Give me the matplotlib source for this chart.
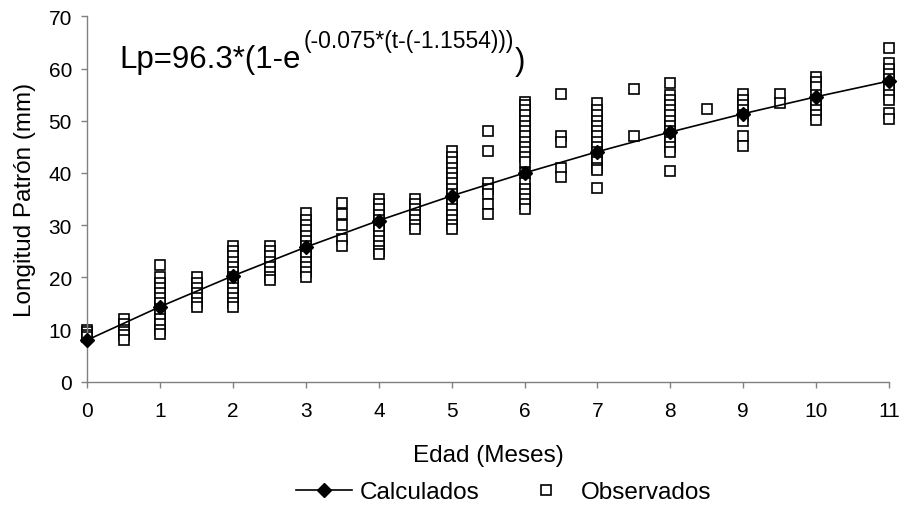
import matplotlib
matplotlib.use("Agg")
import matplotlib.pyplot as plt
from matplotlib.lines import Line2D

plt.rcParams['font.family'] = ['Liberation Sans', 'DejaVu Sans']

# Calculated (von Bertalanffy) values at each month
calc_age = [0, 1, 2, 3, 4, 5, 6, 7, 8, 9, 10, 11]
calc_len = [7.99, 14.38, 20.29, 25.79, 30.88, 35.61, 39.99, 44.06, 47.83, 51.34, 54.58, 57.60]

# Observed values, grouped by age (months)
obs_ages = [0, 0.5, 1, 1.5, 2, 2.5, 3, 3.5, 4, 4.5, 5, 5.5, 6, 6.5, 7, 7.5, 8, 8.5, 9, 9.5, 10, 11]
obs_values = [
    [10, 9.5, 9, 8.5],
    [12, 11, 10, 9.5, 9, 8],
    [22.3, 20, 19, 18, 17, 16, 15, 14, 13, 12, 11, 10, 9.2],
    [20, 19, 18, 17, 16, 15, 14.4],
    [26, 25, 24, 23, 22, 21, 20, 19, 18, 17, 16, 15, 14.4],
    [26, 25, 24, 23, 22, 21, 20, 19.4],
    [32.4, 31, 30, 29, 28, 27, 26, 25, 24, 23, 22, 21, 20],
    [34.2, 32.1, 30, 27.3, 26],
    [35, 34, 33, 32, 31, 30, 29, 28, 27, 26, 25, 24.4],
    [35, 34, 33, 32, 31, 30, 29.3],
    [44.2, 43, 42, 41, 40, 39, 38, 37, 36, 35, 34, 33, 32, 31, 30, 29.3],
    [48, 44.1, 38, 37, 36, 34, 32.2],
    [53.5, 53, 52, 51, 50, 49, 48, 47, 46, 45, 44, 43, 42, 40, 38, 37, 36, 35, 34, 33],
    [55.2, 47, 46, 41, 39.2],
    [53.3, 52, 51, 50, 49, 48, 47, 46, 45, 44, 43, 42, 41, 40.5, 37.2],
    [56, 47.1],
    [57.2, 55, 54, 53, 52, 51, 50, 49, 48, 47, 46, 45, 44, 40.4],
    [52.2],
    [55.2, 54, 53, 52, 51, 50, 47.1, 45.2],
    [55.2, 53.4],
    [58.4, 57.5, 56.4, 55, 54, 53, 52, 51, 50.2],
    [64, 61, 60, 59, 58, 57, 56, 55, 54, 51.5, 50.3],
]

x_ticks = list(range(0, 12))
y_ticks = list(range(0, 71, 10))

obs_x = [a for a, vals in zip(obs_ages, obs_values) for _ in vals]
obs_y = [v for vals in obs_values for v in vals]

W, H = 901, 510
fig = plt.figure(figsize=(W / 100, H / 100), dpi=100)
ax = fig.add_axes([87.3 / W, 1 - 382.7 / H, (889 - 87.3) / W, (382.7 - 17.3) / H])

ax.plot(obs_x, obs_y, linestyle='none', marker='s', markersize=7.4,
        markerfacecolor='white', markeredgecolor='black', markeredgewidth=1.2,
        clip_on=False, zorder=2, label='Observados')
ax.plot(calc_age, calc_len, color='black', linewidth=1.2, marker='D', markersize=7,
        markerfacecolor='black', markeredgecolor='black', clip_on=False, zorder=3,
        label='Calculados')

ax.set_xlim(0, 11)
ax.set_ylim(0, 70)
ax.set_xticks(x_ticks)
ax.set_yticks(y_ticks)

for s in ['top', 'right']:
    ax.spines[s].set_visible(False)
for s in ['left', 'bottom']:
    ax.spines[s].set_color('#808080')
    ax.spines[s].set_linewidth(1.0)

ax.tick_params(axis='both', direction='out', length=4, width=1.0, color='#808080',
               labelsize=15, labelcolor='black')
ax.tick_params(axis='y', pad=7)
ax.tick_params(axis='x', pad=10)

ax.set_xlabel('Edad (Meses)', fontsize=17.5)
ax.xaxis.set_label_coords(0.5, -0.17)
ax.set_ylabel('Longitud Patrón (mm)', fontsize=17.5)
ax.yaxis.set_label_coords(-0.064, 0.5)

# Equation text, pieces chained horizontally
renderer = fig.canvas.get_renderer()
t1 = fig.text(119 / W, 1 - 68 / H, 'Lp=96.3*(1-e', fontsize=22.5, ha='left', va='baseline')
x_end = t1.get_window_extent(renderer).x1
t2 = fig.text((x_end + 3) / W, 1 - 48 / H, '(-0.075*(t-(-1.1554)))', fontsize=16.5,
              ha='left', va='baseline')
x_end2 = t2.get_window_extent(renderer).x1
fig.text((x_end2 + 1) / W, 1 - 70 / H, ')', fontsize=22.5, ha='left', va='baseline')

handles = [
    Line2D([], [], color='black', linewidth=1.2, marker='D', markersize=7),
    Line2D([], [], linestyle='none', marker='s', markersize=7.4, markerfacecolor='white',
           markeredgecolor='black', markeredgewidth=1.2),
]
fig.legend(handles, ['Calculados', 'Observados'], loc='center', ncol=2,
           bbox_to_anchor=(504 / W, 1 - 493 / H), frameon=False, fontsize=17.5,
           handlelength=2.3, handletextpad=0.3, columnspacing=1.6, borderpad=0.1)

fig.savefig('out.png', dpi=100)
